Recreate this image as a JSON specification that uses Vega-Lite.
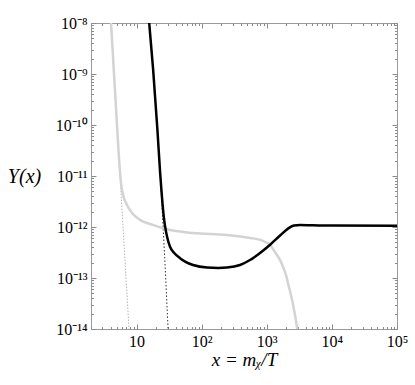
{
  "$schema": "https://vega.github.io/schema/vega-lite/v6.json",
  "width": 306,
  "height": 306,
  "autosize": {"type": "none"},
  "padding": {"left": 91, "top": 23, "right": 18, "bottom": 56},
  "background": "white",
  "config": {"view": {"stroke": "#9a9a9a", "strokeWidth": 1}, "font": "Liberation Serif"},
  "data": {"values": [
    {"s": "graydot", "x": 4.06, "y": 1e-8},
    {"s": "graydot", "x": 4.5, "y": 1.07e-9},
    {"s": "graydot", "x": 5.0, "y": 1.07e-10},
    {"s": "graydot", "x": 5.5, "y": 1.38e-11},
    {"s": "graydot", "x": 6.0, "y": 2.1e-12},
    {"s": "graydot", "x": 6.8, "y": 1.35e-13},
    {"s": "graydot", "x": 7.67, "y": 1e-14},
    {"s": "blackdot", "x": 15.5, "y": 1.17e-8},
    {"s": "blackdot", "x": 18, "y": 1.22e-9},
    {"s": "blackdot", "x": 21, "y": 7.6e-11},
    {"s": "blackdot", "x": 24, "y": 4.65e-12},
    {"s": "blackdot", "x": 26, "y": 7.1e-13},
    {"s": "blackdot", "x": 28, "y": 1.07e-13},
    {"s": "blackdot", "x": 30.5, "y": 1e-14},
    {"s": "gray", "x": 4.06, "y": 1e-8},
    {"s": "gray", "x": 4.5, "y": 1.07e-9},
    {"s": "gray", "x": 5.0, "y": 1.07e-10},
    {"s": "gray", "x": 5.5, "y": 1.5e-11},
    {"s": "gray", "x": 5.8, "y": 7e-12},
    {"s": "gray", "x": 6.21, "y": 4.3e-12},
    {"s": "gray", "x": 7.14, "y": 2.7e-12},
    {"s": "gray", "x": 8.53, "y": 1.88e-12},
    {"s": "gray", "x": 11.3, "y": 1.38e-12},
    {"s": "gray", "x": 17.9, "y": 1.1e-12},
    {"s": "gray", "x": 29.4, "y": 9e-13},
    {"s": "gray", "x": 73.8, "y": 7.6e-13},
    {"s": "gray", "x": 245, "y": 7.0e-13},
    {"s": "gray", "x": 553, "y": 6.1e-13},
    {"s": "gray", "x": 800, "y": 5.6e-13},
    {"s": "gray", "x": 1010, "y": 4.9e-13},
    {"s": "gray", "x": 1125, "y": 4.5e-13},
    {"s": "gray", "x": 1340, "y": 3.2e-13},
    {"s": "gray", "x": 1600, "y": 2.24e-13},
    {"s": "gray", "x": 1780, "y": 1.65e-13},
    {"s": "gray", "x": 2010, "y": 1.05e-13},
    {"s": "gray", "x": 2120, "y": 7.9e-14},
    {"s": "gray", "x": 2450, "y": 3.7e-14},
    {"s": "gray", "x": 2920, "y": 1.05e-14},
    {"s": "gray", "x": 3000, "y": 8e-15},
    {"s": "black", "x": 15.5, "y": 1.17e-8},
    {"s": "black", "x": 18, "y": 1.22e-9},
    {"s": "black", "x": 21, "y": 7.6e-11},
    {"s": "black", "x": 23, "y": 1.2e-11},
    {"s": "black", "x": 24.2, "y": 5e-12},
    {"s": "black", "x": 25.1, "y": 2.8e-12},
    {"s": "black", "x": 26.2, "y": 1.6e-12},
    {"s": "black", "x": 27.4, "y": 1.05e-12},
    {"s": "black", "x": 29.4, "y": 6.5e-13},
    {"s": "black", "x": 32.7, "y": 4.1e-13},
    {"s": "black", "x": 38, "y": 3.1e-13},
    {"s": "black", "x": 46.6, "y": 2.45e-13},
    {"s": "black", "x": 57.5, "y": 2.05e-13},
    {"s": "black", "x": 73.8, "y": 1.8e-13},
    {"s": "black", "x": 121, "y": 1.6e-13},
    {"s": "black", "x": 180, "y": 1.57e-13},
    {"s": "black", "x": 245, "y": 1.6e-13},
    {"s": "black", "x": 389, "y": 1.8e-13},
    {"s": "black", "x": 553, "y": 2.25e-13},
    {"s": "black", "x": 789, "y": 3.1e-13},
    {"s": "black", "x": 1125, "y": 4.5e-13},
    {"s": "black", "x": 1600, "y": 6.8e-13},
    {"s": "black", "x": 2120, "y": 9.3e-13},
    {"s": "black", "x": 2620, "y": 1.07e-12},
    {"s": "black", "x": 3250, "y": 1.09e-12},
    {"s": "black", "x": 5000, "y": 1.08e-12},
    {"s": "black", "x": 10000, "y": 1.07e-12},
    {"s": "black", "x": 100000, "y": 1.06e-12}
  ]},
  "resolve": {"axis": {"x": "independent", "y": "independent"}},
  "layer": [
    {
      "transform": [{"filter": "datum.s === 'graydot'"}],
      "mark": {"type": "line", "clip": true, "color": "#b4b4b4", "strokeWidth": 1, "strokeDash": [1.5, 1.5]},
      "encoding": {
        "x": {"field": "x", "type": "quantitative",
          "scale": {"type": "log", "domain": [2, 100000], "nice": false},
          "axis": {
            "orient": "bottom",
            "values": [2,3,4,5,6,7,8,9,10,20,30,40,50,60,70,80,90,100,200,300,400,500,600,700,800,900,1000,2000,3000,4000,5000,6000,7000,8000,9000,10000,20000,30000,40000,50000,60000,70000,80000,90000,100000],
            "domain": false, "grid": false,
            "tickColor": "#8a8a8a", "tickWidth": 1,
            "tickSize": {"condition": {"test": "abs(log(datum.value)/LN10 - round(log(datum.value)/LN10)) < 0.01", "value": -5}, "value": -2.5},
            "labelExpr": "abs(log(datum.value)/LN10 - round(log(datum.value)/LN10)) < 0.01 ? ['1','10','10²','10³','10⁴','10⁵'][round(log(datum.value)/LN10)] : ''",
            "labelFont": "Liberation Serif", "labelFontSize": 16, "labelColor": "black",
            "labelPadding": 9, "labelOverlap": false, "labelFlush": false, "labelBound": false,
            "title": "x = mᵪ/T",
            "titleFont": "Liberation Serif", "titleFontSize": 19, "titleFontWeight": "normal", "titleFontStyle": "italic", "titleColor": "black",
            "titleY": 30, "titleBaseline": "middle"
          }
        },
        "y": {"field": "y", "type": "quantitative",
          "scale": {"type": "log", "domain": [1e-14, 1e-8], "nice": false},
          "axis": {
            "orient": "left",
            "values": [1e-14,2e-14,3e-14,4e-14,5e-14,6e-14,7e-14,8e-14,9e-14,1e-13,2e-13,3e-13,4e-13,5e-13,6e-13,7e-13,8e-13,9e-13,1e-12,2e-12,3e-12,4e-12,5e-12,6e-12,7e-12,8e-12,9e-12,1e-11,2e-11,3e-11,4e-11,5e-11,6e-11,7e-11,8e-11,9e-11,1e-10,2e-10,3e-10,4e-10,5e-10,6e-10,7e-10,8e-10,9e-10,1e-9,2e-9,3e-9,4e-9,5e-9,6e-9,7e-9,8e-9,9e-9,1e-8],
            "domain": false, "grid": false,
            "tickColor": "#8a8a8a", "tickWidth": 1,
            "tickSize": {"condition": {"test": "abs(log(datum.value)/LN10 - round(log(datum.value)/LN10)) < 0.01", "value": -5}, "value": -2.5},
            "labelExpr": "abs(log(datum.value)/LN10 - round(log(datum.value)/LN10)) < 0.01 ? ['10⁻¹⁴','10⁻¹³','10⁻¹²','10⁻¹¹','10⁻¹⁰','10⁻⁹','10⁻⁸'][round(log(datum.value)/LN10)+14] : ''",
            "labelFont": "Liberation Serif", "labelFontSize": 16, "labelColor": "black",
            "labelPadding": 9, "labelOverlap": false, "labelFlush": false, "labelBound": false,
            "title": "Y(x)",
            "titleFont": "Liberation Serif", "titleFontSize": 20, "titleFontWeight": "normal", "titleFontStyle": "italic", "titleColor": "black",
            "titleAngle": 0, "titleX": -67, "titleY": 153, "titleAlign": "center", "titleBaseline": "middle"
          }
        }
      }
    },
    {
      "transform": [{"filter": "datum.s === 'blackdot'"}],
      "mark": {"type": "line", "clip": true, "color": "#333333", "strokeWidth": 1, "strokeDash": [1.5, 2]},
      "encoding": {
        "x": {"field": "x", "type": "quantitative",
          "scale": {"type": "log", "domain": [2, 100000], "nice": false},
          "axis": {
            "orient": "top",
            "values": [2,3,4,5,6,7,8,9,10,20,30,40,50,60,70,80,90,100,200,300,400,500,600,700,800,900,1000,2000,3000,4000,5000,6000,7000,8000,9000,10000,20000,30000,40000,50000,60000,70000,80000,90000,100000],
            "domain": false, "grid": false, "labels": false, "title": null,
            "tickColor": "#8a8a8a", "tickWidth": 1,
            "tickSize": {"condition": {"test": "abs(log(datum.value)/LN10 - round(log(datum.value)/LN10)) < 0.01", "value": -5}, "value": -2.5}
          }
        },
        "y": {"field": "y", "type": "quantitative",
          "scale": {"type": "log", "domain": [1e-14, 1e-8], "nice": false},
          "axis": {
            "orient": "right",
            "values": [1e-14,2e-14,3e-14,4e-14,5e-14,6e-14,7e-14,8e-14,9e-14,1e-13,2e-13,3e-13,4e-13,5e-13,6e-13,7e-13,8e-13,9e-13,1e-12,2e-12,3e-12,4e-12,5e-12,6e-12,7e-12,8e-12,9e-12,1e-11,2e-11,3e-11,4e-11,5e-11,6e-11,7e-11,8e-11,9e-11,1e-10,2e-10,3e-10,4e-10,5e-10,6e-10,7e-10,8e-10,9e-10,1e-9,2e-9,3e-9,4e-9,5e-9,6e-9,7e-9,8e-9,9e-9,1e-8],
            "domain": false, "grid": false, "labels": false, "title": null,
            "tickColor": "#8a8a8a", "tickWidth": 1,
            "tickSize": {"condition": {"test": "abs(log(datum.value)/LN10 - round(log(datum.value)/LN10)) < 0.01", "value": -5}, "value": -2.5}
          }
        }
      }
    },
    {
      "transform": [{"filter": "datum.s === 'gray'"}],
      "mark": {"type": "line", "clip": true, "color": "#d3d3d3", "strokeWidth": 2.5, "interpolate": "monotone"},
      "encoding": {
        "x": {"field": "x", "type": "quantitative", "scale": {"type": "log", "domain": [2, 100000], "nice": false}, "axis": null},
        "y": {"field": "y", "type": "quantitative", "scale": {"type": "log", "domain": [1e-14, 1e-8], "nice": false}, "axis": null}
      }
    },
    {
      "transform": [{"filter": "datum.s === 'black'"}],
      "mark": {"type": "line", "clip": true, "color": "black", "strokeWidth": 2.5, "interpolate": "monotone"},
      "encoding": {
        "x": {"field": "x", "type": "quantitative", "scale": {"type": "log", "domain": [2, 100000], "nice": false}, "axis": null},
        "y": {"field": "y", "type": "quantitative", "scale": {"type": "log", "domain": [1e-14, 1e-8], "nice": false}, "axis": null}
      }
    }
  ]
}
